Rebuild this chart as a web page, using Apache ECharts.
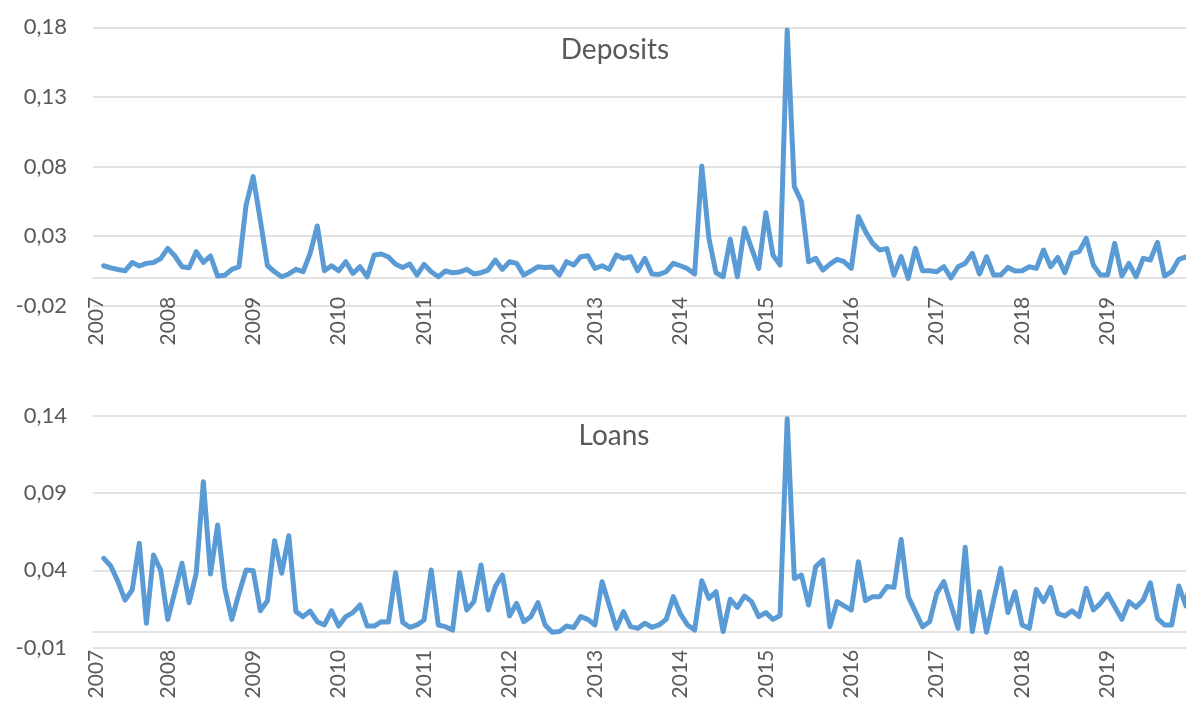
<!DOCTYPE html>
<html>
<head>
<meta charset="utf-8">
<title>Deposits / Loans</title>
<script src="https://cdn.jsdelivr.net/npm/echarts@6.0.0/dist/echarts.min.js"></script>
<style>
  html, body { margin: 0; padding: 0; background: #fff; }
  #chart { width: 1186px; height: 702px; }
</style>
</head>
<body>
<div id="chart"></div>
<script>
  // monthly categories, 2007-03 .. 2020-01 (last one falls just past the right edge)
  const startYear = 2007
  const startMonth = 3
  const monthCount = 155
  const months = []
  for (let k = 0; k < monthCount; k++) {
    const m = startMonth - 1 + k
    const y = startYear + Math.floor(m / 12)
    const mm = (m % 12) + 1
    months.push(y + '-' + (mm < 10 ? '0' + mm : mm))
  }

  // year labels shown on the axis
  const yearLabels = ['2007', '2008', '2009', '2010', '2011', '2012', '2013',
    '2014', '2015', '2016', '2017', '2018', '2019']

  // Deposits
  const deposits = [
    null, 0.0087, 0.0072, 0.0060, 0.0051, 0.0110, 0.0085, 0.0104, 0.0110, 0.0138,
    0.0212, 0.0157, 0.0080, 0.0073, 0.0188, 0.0111, 0.0157, 0.0013, 0.0018, 0.0061,
    0.0080, 0.0523, 0.0727, 0.0415, 0.0087, 0.0044, 0.0008, 0.0028, 0.0061, 0.0044,
    0.0176, 0.0373, 0.0051, 0.0087, 0.0051, 0.0116, 0.0032, 0.0080, 0.0008, 0.0164,
    0.0171, 0.0150, 0.0098, 0.0075, 0.0099, 0.0020, 0.0097, 0.0044, 0.0008, 0.0049,
    0.0037, 0.0042, 0.0061, 0.0028, 0.0037, 0.0056, 0.0128, 0.0061, 0.0116, 0.0104,
    0.0020, 0.0049, 0.0080, 0.0075, 0.0078, 0.0020, 0.0116, 0.0092, 0.0152, 0.0159,
    0.0068, 0.0087, 0.0061, 0.0164, 0.0140, 0.0152, 0.0051, 0.0140, 0.0028, 0.0025,
    0.0044, 0.0104, 0.0087, 0.0066, 0.0028, 0.0803, 0.0284, 0.0037, 0.0008, 0.0277,
    0.0008, 0.0356, 0.0212, 0.0068, 0.0468, 0.0164, 0.0092, 0.1780, 0.0655, 0.0548,
    0.0116, 0.0140, 0.0056, 0.0099, 0.0133, 0.0116, 0.0068, 0.0440, 0.0332, 0.0248,
    0.0200, 0.0210, 0.0020, 0.0152, -0.0004, 0.0212, 0.0051, 0.0051, 0.0044, 0.0080,
    0.0000, 0.0080, 0.0104, 0.0176, 0.0028, 0.0152, 0.0020, 0.0020, 0.0075, 0.0049,
    0.0051, 0.0080, 0.0068, 0.0200, 0.0080, 0.0147, 0.0037, 0.0176, 0.0188, 0.0284,
    0.0092, 0.0020, 0.0020, 0.0248, 0.0013, 0.0104, 0.0008, 0.0140, 0.0128, 0.0255,
    0.0013, 0.0044, 0.0133, 0.0150, 0.0160
  ]

  // Loans
  const loans = [
    null, 0.0478, 0.0428, 0.0327, 0.0208, 0.0273, 0.0575, 0.0058, 0.0499, 0.0402,
    0.0083, 0.0262, 0.0446, 0.0191, 0.0381, 0.0973, 0.0376, 0.0693, 0.0284, 0.0083,
    0.0251, 0.0402, 0.0398, 0.0139, 0.0204, 0.0592, 0.0381, 0.0624, 0.0133, 0.0101,
    0.0137, 0.0068, 0.0047, 0.0139, 0.0040, 0.0101, 0.0127, 0.0176, 0.0040, 0.0040,
    0.0068, 0.0066, 0.0385, 0.0064, 0.0032, 0.0047, 0.0079, 0.0402, 0.0047, 0.0036,
    0.0014, 0.0385, 0.0144, 0.0198, 0.0435, 0.0144, 0.0295, 0.0370, 0.0105, 0.0187,
    0.0068, 0.0101, 0.0191, 0.0047, 0.0000, 0.0004, 0.0040, 0.0030, 0.0101, 0.0083,
    0.0047, 0.0327, 0.0176, 0.0025, 0.0133, 0.0036, 0.0025, 0.0058, 0.0032, 0.0047,
    0.0083, 0.0230, 0.0118, 0.0047, 0.0014, 0.0333, 0.0219, 0.0262, 0.0004, 0.0213,
    0.0161, 0.0234, 0.0198, 0.0101, 0.0127, 0.0083, 0.0108, 0.1380, 0.0348, 0.0370,
    0.0176, 0.0424, 0.0467, 0.0036, 0.0198, 0.0170, 0.0144, 0.0456, 0.0204, 0.0230,
    0.0230, 0.0295, 0.0290, 0.0600, 0.0230, 0.0133, 0.0036, 0.0068, 0.0251, 0.0327,
    0.0176, 0.0025, 0.0549, 0.0004, 0.0262, 0.0000, 0.0208, 0.0413, 0.0127, 0.0262,
    0.0047, 0.0025, 0.0277, 0.0198, 0.0290, 0.0122, 0.0105, 0.0139, 0.0101, 0.0284,
    0.0144, 0.0187, 0.0247, 0.0165, 0.0083, 0.0198, 0.0161, 0.0208, 0.0320, 0.0090,
    0.0047, 0.0047, 0.0299, 0.0170, 0.0450
  ]

  // y axis ranges: [min, max, step]
  const depositsAxis = [-0.02, 0.18, 0.05]
  const loansAxis = [-0.01, 0.14, 0.05]

  const lineColor = '#5B9BD5'
  const gridColor = '#D9D9D9'
  const textColor = '#595959'
  const font = 'Lato, "Open Sans", sans-serif'

  const chart = echarts.init(document.getElementById('chart'))

  // year label only on the first month and on each January
  const showYear = (idx, val) => {
    const y = val.slice(0, 4)
    return (idx === 0 || val.slice(5) === '01') && yearLabels.indexOf(y) > -1
  }

  // x axis with labels at the bottom of the grid
  function labelAxis (gridIndex, margin) {
    return {
      type: 'category',
      gridIndex: gridIndex,
      data: months,
      boundaryGap: true,
      axisLine: { show: false, onZero: false },
      axisTick: { show: false },
      axisLabel: {
        interval: showYear,
        formatter: (v) => v.slice(0, 4),
        rotate: 90,
        margin: margin,
        color: textColor,
        fontFamily: font,
        fontSize: 21
      },
      splitLine: { show: false }
    }
  }

  // x axis only drawn as the line at zero
  function zeroAxis (gridIndex) {
    return {
      type: 'category',
      gridIndex: gridIndex,
      data: months,
      boundaryGap: true,
      axisLine: { show: true, onZero: true, lineStyle: { color: gridColor, width: 1.5 } },
      axisTick: { show: false },
      axisLabel: { show: false },
      splitLine: { show: false }
    }
  }

  function valueAxis (gridIndex, range) {
    return {
      type: 'value',
      gridIndex: gridIndex,
      min: range[0],
      max: range[1],
      interval: range[2],
      axisLine: { show: false },
      axisTick: { show: false },
      axisLabel: {
        margin: 26,
        color: textColor,
        fontFamily: font,
        fontSize: 22,
        formatter: (v) => v.toFixed(2).replace('.', ',')
      },
      splitLine: { lineStyle: { color: gridColor, width: 1.5 } }
    }
  }

  function lineSeries (name, data, axisIndex) {
    return {
      name: name,
      type: 'line',
      data: data,
      xAxisIndex: axisIndex * 2,
      yAxisIndex: axisIndex,
      showSymbol: false,
      smooth: false,
      silent: true,
      lineStyle: { color: lineColor, width: 5, join: 'round', cap: 'round' },
      z: 5
    }
  }

  const option = {
    animation: false,
    backgroundColor: '#fff',
    title: [
      {
        text: 'Deposits',
        left: 615,
        top: 36,
        textAlign: 'center',
        padding: 0,
        textStyle: { color: textColor, fontFamily: font, fontSize: 28, fontWeight: 'normal' }
      },
      {
        text: 'Loans',
        left: 614,
        top: 422,
        textAlign: 'center',
        padding: 0,
        textStyle: { color: textColor, fontFamily: font, fontSize: 28, fontWeight: 'normal' }
      }
    ],
    // grid runs a bit past the right edge, as in the cropped original
    grid: [
      { left: 93, top: 27.3, width: 1103.6, height: 278.4, outerBoundsMode: 'none', containLabel: false },
      { left: 93, top: 415.7, width: 1103.6, height: 232, outerBoundsMode: 'none', containLabel: false }
    ],
    xAxis: [
      labelAxis(0, -9),
      zeroAxis(0),
      labelAxis(1, 2),
      zeroAxis(1)
    ],
    yAxis: [
      valueAxis(0, depositsAxis),
      valueAxis(1, loansAxis)
    ],
    series: [
      lineSeries('Deposits', deposits, 0),
      lineSeries('Loans', loans, 1)
    ]
  }

  chart.setOption(option)
</script>
</body>
</html>
